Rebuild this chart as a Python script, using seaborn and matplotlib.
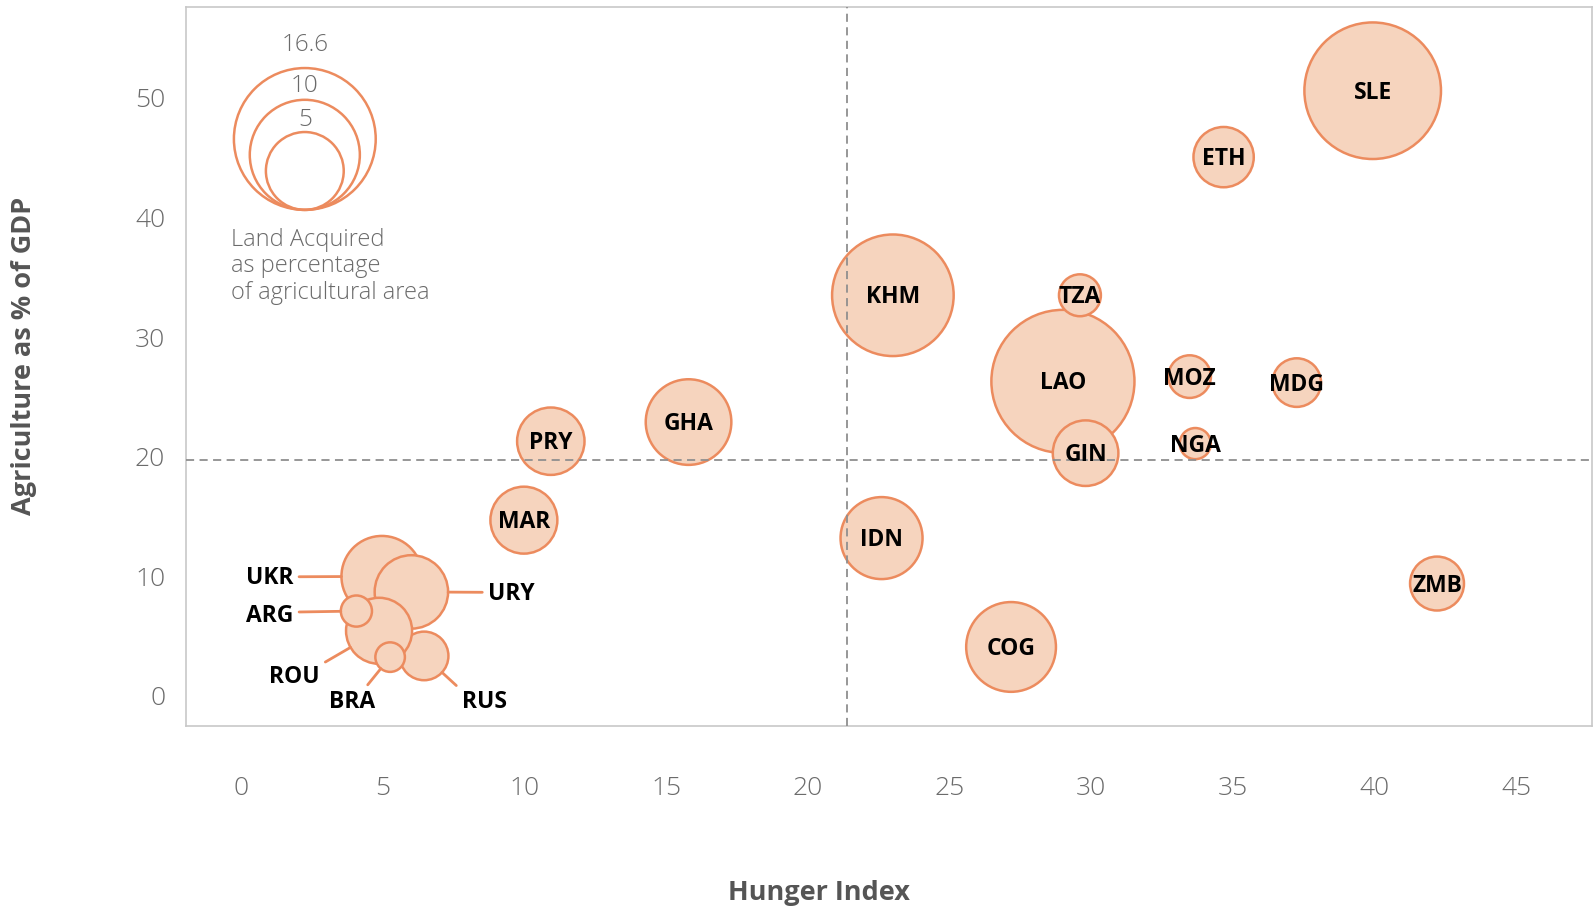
import matplotlib.pyplot as plt
import matplotlib.transforms as mtransforms
import numpy as np
import pandas as pd
import seaborn as sns

# values (draw order matters for overlaps)
countries = ['SLE', 'ETH', 'KHM', 'LAO', 'TZA', 'GIN', 'MOZ', 'MDG', 'NGA', 'GHA',
             'PRY', 'MAR', 'IDN', 'COG', 'ZMB', 'UKR', 'URY', 'RUS', 'ROU', 'ARG', 'BRA']
hunger_index = [39.93, 34.67, 23.0, 29.0, 29.6, 29.8, 33.47, 37.25, 33.67, 15.79,
                10.93, 9.98, 22.6, 27.17, 42.2, 4.97, 6.01, 6.46, 4.87, 4.07, 5.26]
agri_gdp = [50.6, 45.05, 33.5, 26.3, 33.5, 20.3, 26.7, 26.2, 21.1, 22.9,
            21.3, 14.7, 13.2, 4.1, 9.4, 10.0, 8.7, 3.35, 5.45, 7.1, 3.25]
land_acquired = [15.4, 3.0, 12.2, 16.9, 1.45, 3.55, 1.5, 1.95, 0.8, 6.05,
                 3.75, 3.7, 5.55, 6.65, 2.4, 5.4, 4.45, 1.95, 3.6, 0.8, 0.72]

legend_values = [16.6, 10, 5]
legend_labels = ['16.6', '10', '5']
legend_caption = 'Land Acquired\nas percentage\nof agricultural area'

x_ticks = [0, 5, 10, 15, 20, 25, 30, 35, 40, 45]
y_ticks = [0, 10, 20, 30, 40, 50]
hunger_cut = 21.37
agri_cut = 19.7

FILL = '#F6D4BE'
EDGE = '#EC8B5E'
GREY = '#6b6b6b'
SIZE_PER_UNIT = 628  # marker area (pt^2) per % of land acquired

# label placement for the crowded cluster: (dx pt, dy pt, ha, relpos)
callouts = {
    'UKR': (-64, -1.5, 'right', (1, 0.57)),
    'ARG': (-45.6, -3.5, 'right', (1, 0.66)),
    'URY': (55.4, -1.5, 'left', (0, 0.57)),
    'ROU': (-61, -33.5, 'center', (1, 1)),
    'BRA': (-27.6, -32.5, 'center', (0.75, 1)),
    'RUS': (43.2, -33.5, 'center', (0, 1)),
}
legend_label_dy = [119, 89, 64.4]


def main():
    sns.set_style('white')
    plt.rcParams['font.family'] = ['Open Sans', 'DejaVu Sans']

    df = pd.DataFrame({'country': countries, 'hunger': hunger_index,
                       'agri': agri_gdp, 'land': land_acquired})

    fig = plt.figure(figsize=(15.93, 9.09), dpi=100)
    ax = fig.add_axes([0.1168, 0.2017, 0.8826, 0.7906])

    sns.scatterplot(data=df, x='hunger', y='agri', size='land',
                    sizes=(0, SIZE_PER_UNIT * 20), size_norm=(0, 20),
                    color=FILL, edgecolor=EDGE, linewidth=1.8, alpha=1,
                    legend=False, ax=ax, zorder=2)

    ax.axvline(hunger_cut, color='#8f8f8f', lw=1.3, ls=(0, (4.5, 3)), zorder=3)
    ax.axhline(agri_cut, color='#8f8f8f', lw=1.3, ls=(0, (4.5, 3)), zorder=3)

    for c, x, y, v in zip(countries, hunger_index, agri_gdp, land_acquired):
        if c in callouts:
            dx, dy, ha, rel = callouts[c]
            r_pt = np.sqrt(SIZE_PER_UNIT * v) / 2
            ax.annotate(c, xy=(x, y), xytext=(dx, dy), textcoords='offset points',
                        ha=ha, va='center', fontsize=16.5, fontweight='bold',
                        color='black', zorder=5,
                        arrowprops=dict(arrowstyle='-', color=EDGE, lw=2,
                                        shrinkA=2, shrinkB=r_pt, relpos=rel))
        else:
            ax.annotate(c, xy=(x, y), xytext=(0, -1.5), textcoords='offset points',
                        ha='center', va='center', fontsize=16.5,
                        fontweight='bold', color='black', zorder=5)

    # size legend drawn inside the plot, circles sitting on a common bottom point
    lx, ly = 2.25, 40.64
    for v, lab, tdy in zip(legend_values, legend_labels, legend_label_dy):
        s = SIZE_PER_UNIT * v
        r_pt = np.sqrt(s) / 2
        tr = mtransforms.offset_copy(ax.transData, fig=fig, x=0, y=r_pt, units='points')
        ax.scatter([lx], [ly], s=s, facecolor='none', edgecolor=EDGE,
                   linewidth=1.8, transform=tr, zorder=4)
        ax.annotate(lab, xy=(lx, ly), xytext=(0, tdy), textcoords='offset points',
                    ha='center', va='center', fontsize=17.5, color=GREY,
                    fontweight='light')
    ax.text(-0.37, 39.1, legend_caption, ha='left', va='top', fontsize=17,
            color=GREY, fontweight='light', linespacing=1.12)

    ax.set_xlim(-1.94, 47.67)
    ax.set_ylim(-2.48, 57.6)
    ax.set_xticks(x_ticks)
    ax.set_yticks(y_ticks)
    ax.tick_params(axis='x', length=0, pad=36, labelsize=19, labelcolor=GREY)
    ax.tick_params(axis='y', length=0, pad=15, labelsize=19, labelcolor=GREY)
    for lab in ax.get_xticklabels() + ax.get_yticklabels():
        lab.set_fontweight('light')

    for sp in ax.spines.values():
        sp.set_color('#c8c8c8')
        sp.set_linewidth(1.2)

    ax.set_xlabel('Hunger Index', fontsize=19.5, fontweight='bold', color='#555555',
                  va='center')
    ax.set_ylabel('Agriculture as % of GDP', fontsize=19.5, fontweight='bold',
                  color='#555555', va='center')
    ax.xaxis.set_label_coords(0.45, -0.233)
    ax.yaxis.set_label_coords(-0.115, 0.514)

    plt.savefig('out.png', dpi=100)


if __name__ == '__main__':
    main()
